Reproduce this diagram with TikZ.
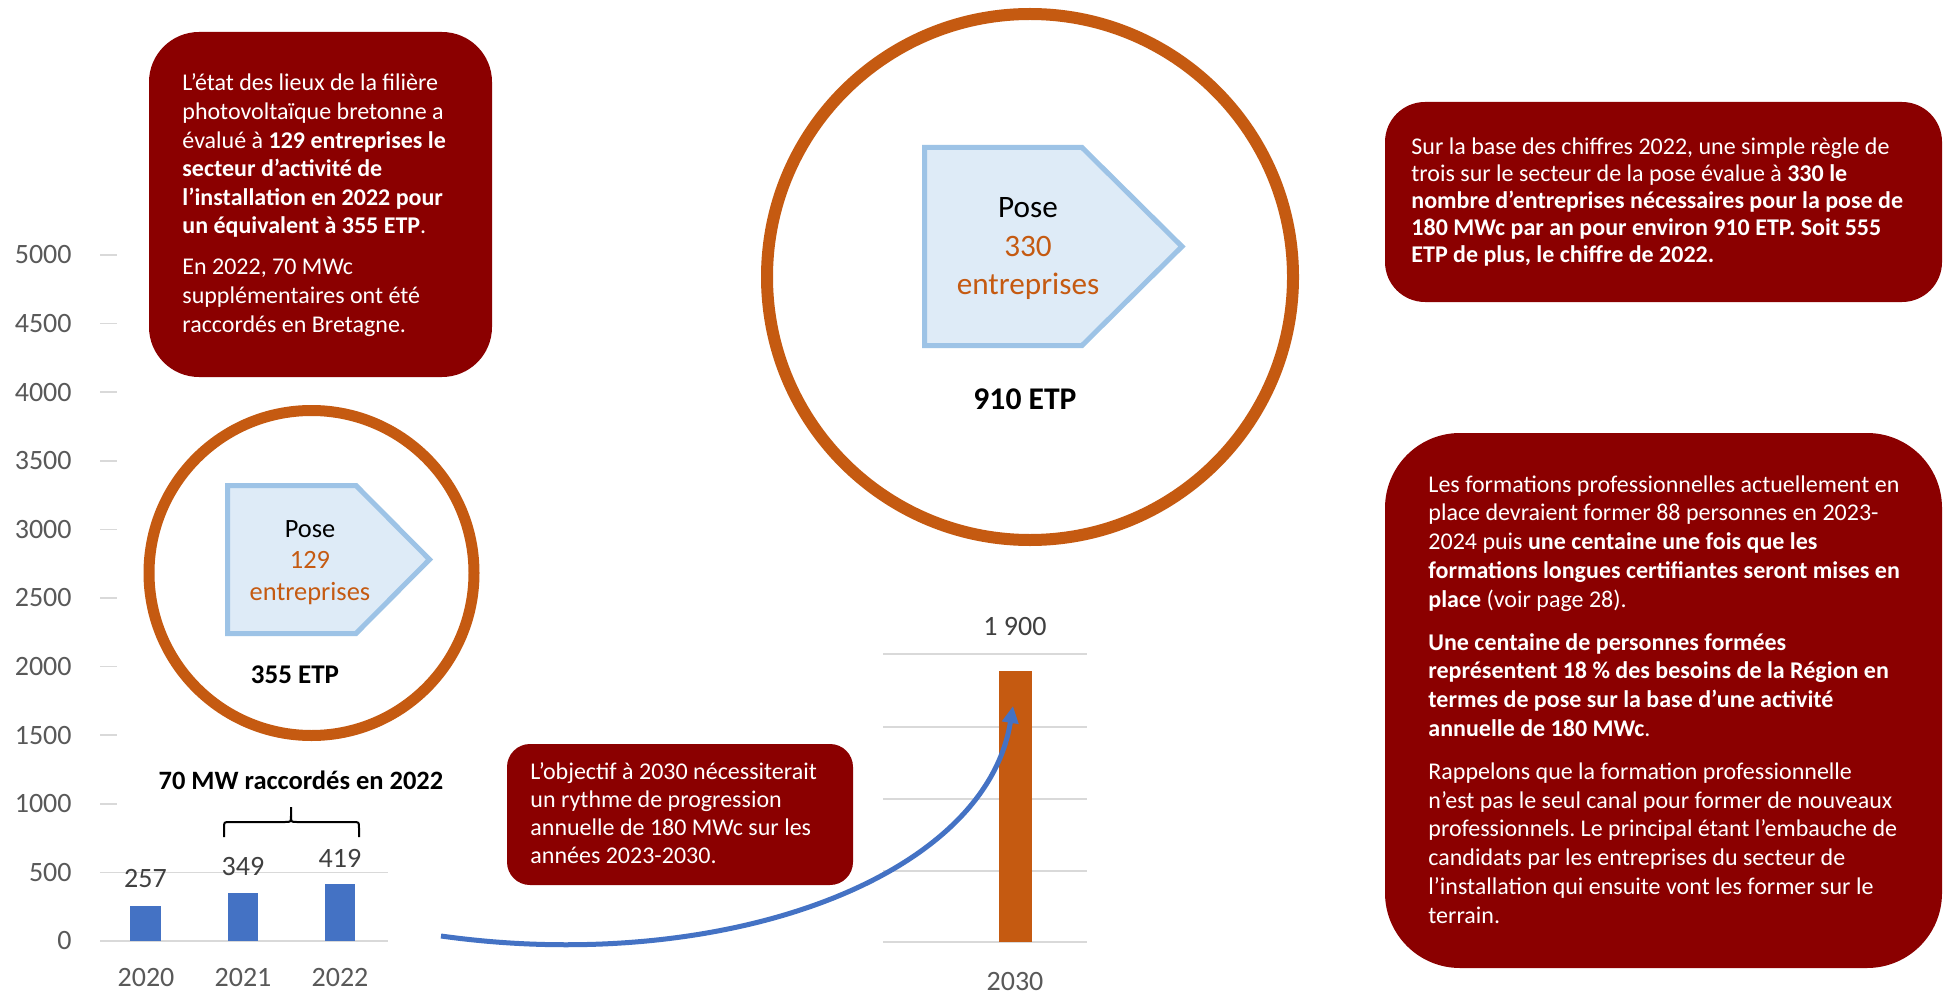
\documentclass[tikz,border=0pt]{standalone}
\usepackage{fontspec}
\setmainfont{Carlito}
\usetikzlibrary{arrows.meta}
\definecolor{boxred}{RGB}{139,0,0}
\definecolor{ringorange}{RGB}{197,90,17}
\definecolor{barblue}{RGB}{68,114,196}
\definecolor{pentfill}{RGB}{222,235,247}
\definecolor{pentline}{RGB}{157,195,230}
\definecolor{axisgray}{RGB}{89,89,89}
\definecolor{valgray}{RGB}{64,64,64}
\definecolor{gridgray}{RGB}{217,217,217}
\frenchspacing
\begin{document}
\frenchspacing
\begin{tikzpicture}[x=0.5pt,y=-0.5pt,
  redbox/.style={fill=boxred},
  ring/.style={draw=ringorange,line width=5.5pt},
  pent/.style={fill=pentfill,draw=pentline,line width=2.5pt,line join=miter},
  axislabel/.style={anchor=east,inner sep=0pt,text=axisgray,font=\fontsize{14pt}{16pt}\selectfont},
  vallabel/.style={anchor=center,inner sep=0pt,text=valgray,font=\fontsize{14pt}{16pt}\selectfont},
  yearlabel/.style={anchor=center,inner sep=0pt,text=axisgray,font=\fontsize{14pt}{16pt}\selectfont},
  tickline/.style={draw=gridgray,line width=0.75pt},
  barfill/.style={fill=barblue},
  boxtext/.style={anchor=base west,inner sep=0pt,text=white},
  penttext/.style={anchor=base,inner sep=0pt},
  boldlabel/.style={anchor=base,inner sep=0pt,text=black},
]
\useasboundingbox (0,0) rectangle (1948,1000);
\fill[white] (0,0) rectangle (1948,1000);

% ---------- left axis ----------
\foreach \v/\yy in {5000/255,4500/323.6,4000/392.2,3500/460.8,3000/529.4,2500/598,2000/666.6,1500/735.2,1000/803.8,500/872.4,0/941}{
  \node[axislabel] (ax\v) at (72,\yy) {\v};
  \draw[tickline] (100,\yy) -- (117,\yy);
}
\draw[tickline] (100,872.4) -- (388,872.4);
\draw[tickline] (100,941) -- (388,941);

% bars 2020-2022
\fill[barfill] (130,905.7) rectangle (161,941);
\fill[barfill] (228,893.1) rectangle (258,941);
\fill[barfill] (325,883.5) rectangle (355,941);
\node[vallabel] (v2020) at (145.5,879) {257};
\node[vallabel] (v2021) at (243,867) {349};
\node[vallabel] (v2022) at (340,858) {419};
\node[yearlabel] (y2020) at (146,978) {2020};
\node[yearlabel] (y2021) at (243,978) {2021};
\node[yearlabel] (y2022) at (340,978) {2022};

% brace and title
\node[boldlabel,font=\bfseries\fontsize{13.25pt}{16pt}\selectfont] (mwtitle) at (301,789) {70 MW raccordés en 2022};
\draw[line width=1pt,black]
  (224,837) -- (224,828) .. controls (224,822) .. (230,822) -- (285,822)
  .. controls (291,822) .. (291,816) -- (291,807);
\draw[line width=1pt,black]
  (359,837) -- (359,828) .. controls (359,822) .. (353,822) -- (297,822)
  .. controls (291,822) .. (291,816);

% ---------- small ring ----------
\draw[ring] (311.5,573) circle[radius=162.5];
\draw[pent] (227.5,485.5) -- (356,485.5) -- (429.5,559.5) -- (356,633.5) -- (227.5,633.5) -- cycle;
\node[penttext] (pose1) at (310,537) {\begin{minipage}[t]{80pt}\centering\fontsize{13.2pt}{15.75pt}\selectfont
Pose\\ \textcolor{ringorange}{129}\\ \textcolor{ringorange}{entreprises}\end{minipage}};
\node[boldlabel,font=\bfseries\fontsize{13.5pt}{16pt}\selectfont] (etp355) at (295,683) {355 ETP};

% ---------- big ring ----------
\draw[ring,line width=6pt] (1030,277) circle[radius=263];
\draw[pent] (924.5,147.5) -- (1082,147.5) -- (1182,246.5) -- (1082,345.5) -- (924.5,345.5) -- cycle;
\node[penttext] (pose2) at (1028,218) {\begin{minipage}[t]{110pt}\centering\fontsize{15.6pt}{19.25pt}\selectfont
Pose\\ \textcolor{ringorange}{330}\\ \textcolor{ringorange}{entreprises}\end{minipage}};
\node[boldlabel,font=\bfseries\fontsize{15.8pt}{19pt}\selectfont] (etp910) at (1025,409) {910 ETP};

% ---------- right chart 2030 ----------
\foreach \yy in {654,727,799,871,942}{
  \draw[tickline] (883,\yy) -- (1087,\yy);
}
\node[fill=ringorange,inner sep=0pt,minimum width=16.5pt,minimum height=135.5pt,anchor=south] (bar2030) at (1015.5,942) {};
\node[vallabel] (v2030) at (1015,627) {1 900};
\node[yearlabel] (y2030) at (1015,982) {2030};

% ---------- text boxes ----------
\fill[redbox,rounded corners=25pt] (149,32) rectangle (492,377);
\node[boxtext] (tltext) at (182,91) {\begin{minipage}[t]{150pt}\fontsize{12pt}{14.3pt}\selectfont\raggedright\setlength{\parskip}{6.2pt}%
L’état des lieux de la filière\\
photovoltaïque bretonne a\\
évalué à \textbf{129 entreprises le}\\
\textbf{secteur d’activité de}\\
\textbf{l’installation en 2022 pour}\\
\textbf{un équivalent à 355 ETP}.\par
En 2022, 70 MWc\\
supplémentaires ont été\\
raccordés en Bretagne.
\end{minipage}};

\fill[redbox,rounded corners=20pt] (1385,102) rectangle (1942,302);
\node[boxtext] (atext) at (1411,155) {\begin{minipage}[t]{262pt}\fontsize{12pt}{13.5pt}\selectfont\raggedright
Sur la base des chiffres 2022, une simple règle de\\
trois sur le secteur de la pose évalue à \textbf{330 le}\\
\textbf{nombre d’entreprises nécessaires pour la pose de}\\
\textbf{180 MWc par an pour environ 910 ETP. Soit 555}\\
\textbf{ETP de plus, le chiffre de 2022.}
\end{minipage}};

\fill[redbox,rounded corners=37.5pt] (1385,433) rectangle (1942,968);
\node[boxtext] (btext) at (1428,492) {\begin{minipage}[t]{252pt}\fontsize{12pt}{14.4pt}\selectfont\raggedright\setlength{\parskip}{7pt}%
Les formations professionnelles actuellement en\\
place devraient former 88 personnes en 2023-\\
2024 puis \textbf{une centaine une fois que les}\\
\textbf{formations longues certifiantes seront mises en}\\
\textbf{place} (voir page 28).\par
\textbf{Une centaine de personnes formées}\\
\textbf{représentent 18~\% des besoins de la Région en}\\
\textbf{termes de pose sur la base d’une activité}\\
\textbf{annuelle de 180 MWc}.\par
Rappelons que la formation professionnelle\\
n’est pas le seul canal pour former de nouveaux\\
professionnels. Le principal étant l’embauche de\\
candidats par les entreprises du secteur de\\
l’installation qui ensuite vont les former sur le\\
terrain.
\end{minipage}};

\fill[redbox,rounded corners=11.5pt] (507,744) rectangle (853,885);
\node[boxtext] (ctext) at (530,779) {\begin{minipage}[t]{160pt}\fontsize{12pt}{14pt}\selectfont\raggedright
L’objectif à 2030 nécessiterait\\
un rythme de progression\\
annuelle de 180 MWc sur les\\
années 2023-2030.
\end{minipage}};

% ---------- growth arrow ----------
\coordinate (arrowstart) at (441,936);
\coordinate (arrowend) at (1013,706);
\draw[line width=2.5pt,draw=barblue,-{Triangle[length=8.5pt,width=8pt]}]
  (arrowstart) .. controls (720,975) and (985,880) .. (arrowend);
\end{tikzpicture}
\end{document}
